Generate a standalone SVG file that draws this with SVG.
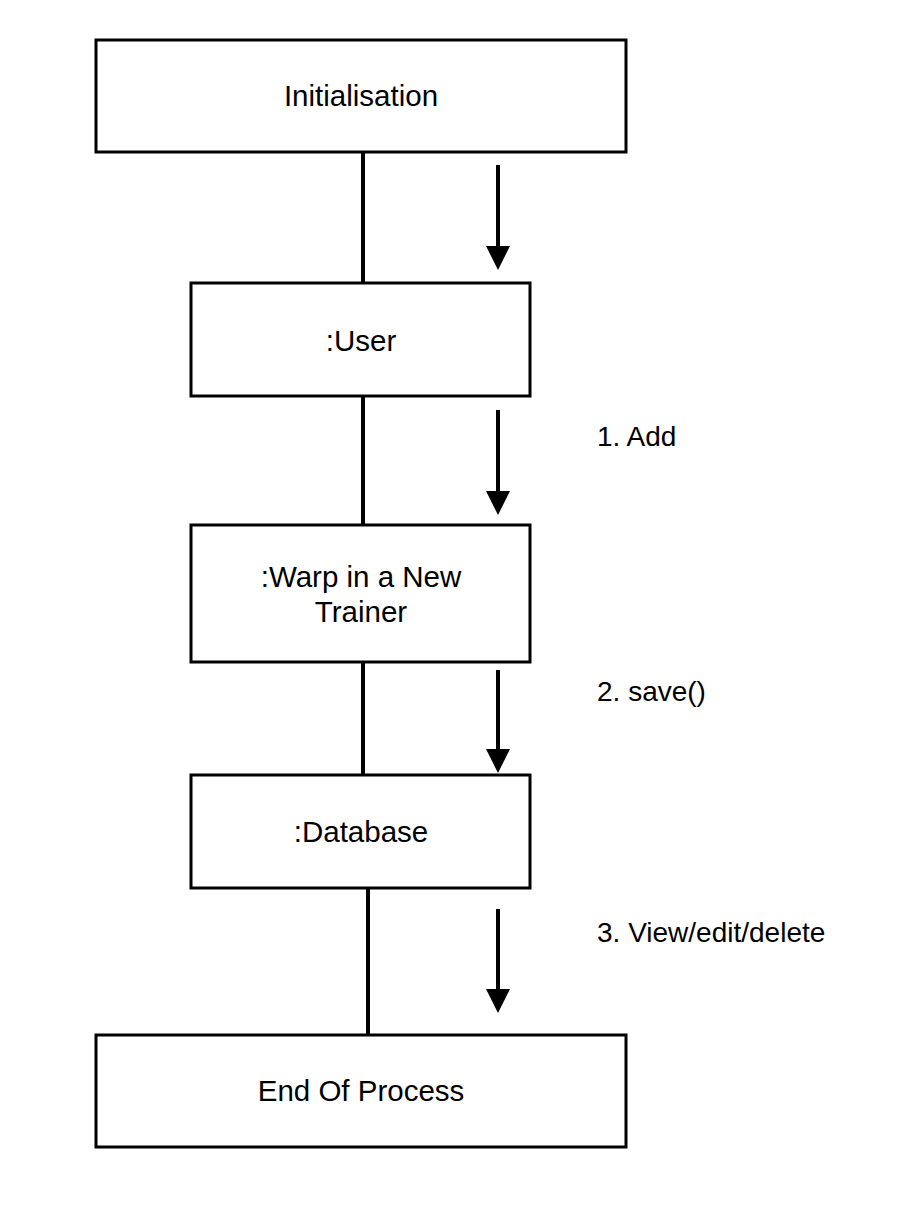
<svg xmlns="http://www.w3.org/2000/svg" width="906" height="1218" viewBox="0 0 906 1218">
<style>
.box{fill:#fff;stroke:#000;stroke-width:3}
.conn{stroke:#000;stroke-width:4;fill:none}
.arr{stroke:#000;stroke-width:4;fill:none;marker-end:url(#ah)}
.t{font-family:"Liberation Sans",Arial,Helvetica,sans-serif;font-size:29.5px;fill:#000;text-anchor:middle}
.l{font-family:"Liberation Sans",Arial,Helvetica,sans-serif;font-size:28px;fill:#000}
</style>
<defs>
<marker id="ah" viewBox="0 0 24 24" refX="4" refY="12" markerWidth="24" markerHeight="24" markerUnits="userSpaceOnUse" orient="auto">
<path d="M0,0 L24,12 L0,24 z" fill="#000"/>
</marker>
</defs>
<rect width="906" height="1218" fill="#fff"/>
<g id="connectors">
<line class="conn" x1="363" y1="152" x2="363" y2="283"/>
<line class="conn" x1="363" y1="396" x2="363" y2="525"/>
<line class="conn" x1="363" y1="662" x2="363" y2="775"/>
<line class="conn" x1="368" y1="888" x2="368" y2="1035"/>
<line class="arr" x1="498" y1="165" x2="498" y2="250"/>
<line class="arr" x1="498" y1="410" x2="498" y2="495"/>
<line class="arr" x1="498" y1="670" x2="498" y2="753"/>
<line class="arr" x1="498" y1="909" x2="498" y2="993"/>
<text class="l" x="597" y="446">1. Add</text>
<text class="l" x="597" y="701">2. save()</text>
<text class="l" x="597" y="942">3. View/edit/delete</text>
</g>
<g id="initialisation">
<rect class="box" x="96" y="40" width="530" height="112"/>
<text class="t" x="361" y="106">Initialisation</text>
</g>
<g id="user">
<rect class="box" x="191" y="283" width="339" height="113"/>
<text class="t" x="361" y="351">:User</text>
</g>
<g id="warp">
<rect class="box" x="191" y="525" width="339" height="137"/>
<text class="t" x="361" y="587">:Warp in a New</text>
<text class="t" x="361" y="622">Trainer</text>
</g>
<g id="database">
<rect class="box" x="191" y="775" width="339" height="113"/>
<text class="t" x="361" y="842">:Database</text>
</g>
<g id="end">
<rect class="box" x="96" y="1035" width="530" height="112"/>
<text class="t" x="361" y="1101">End Of Process</text>
</g>
</svg>
